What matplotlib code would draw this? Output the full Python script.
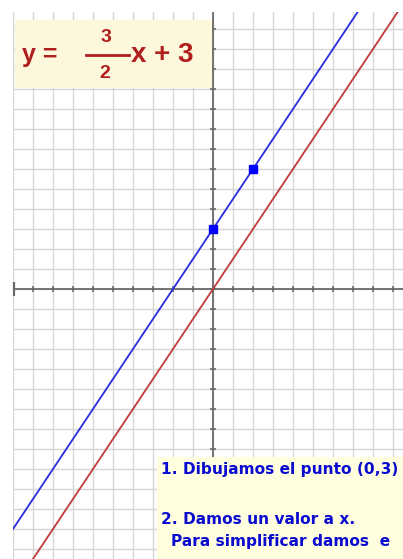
import numpy as np
import matplotlib
matplotlib.use("Agg")
import matplotlib.pyplot as plt
from matplotlib.patches import Rectangle

W, H = 403, 559

# datos
line_x = [-10, 10]
blue_y = [-12, 18]     # y = 3/2 x + 3
red_y = [-15, 15]      # y = 3/2 x
pts_x = [0, 2]
pts_y = [3, 6]
xlim = (-10, 9.5)
ylim = (-13.5, 13.85)

paso1 = "1. Dibujamos el punto (0,3)"
paso2 = "2. Damos un valor a x."
paso3 = "Para simplificar damos  e"

BLUE = "#2a2ae0"
RED = "#c23a3a"
TXT_BLUE = "#0a0ad0"
TXT_RED = "#b01e1e"


def px(x, y):
    # pixeles desde arriba-izquierda -> fraccion de figura
    return x / W, 1 - y / H


fig = plt.figure(figsize=(W / 100, H / 100), dpi=100)
fig.patch.set_facecolor("white")
ax = fig.add_axes([13 / W, 0, (W - 13) / W, (H - 12) / H])
ax.set_xlim(*xlim)
ax.set_ylim(*ylim)
ax.set_xticks(np.arange(-10, 10))
ax.set_yticks(np.arange(-13, 14))
ax.grid(True, color="#d6d6d6", lw=1)
ax.tick_params(length=0, labelbottom=False, labelleft=False)
for s in ax.spines.values():
    s.set_visible(False)

# ejes con marcas
ax.axhline(0, color="#6a6a6a", lw=1.3)
ax.axvline(0, color="#6a6a6a", lw=1.3)
tx = np.arange(-9, 10)
ty = np.arange(-13, 14)
ax.plot(tx, np.zeros_like(tx), ls="none", marker="|", ms=5, mew=1.2, color="#6a6a6a")
ax.plot(np.zeros_like(ty), ty, ls="none", marker="_", ms=5, mew=1.2, color="#6a6a6a")
ax.plot([xlim[0] + 0.05], [0], marker="|", ms=10, mew=1.6, color="#6a6a6a", clip_on=False)

ax.plot(line_x, red_y, color=RED, lw=1.3)
ax.plot(line_x, blue_y, color=BLUE, lw=1.3)
ax.plot(pts_x, pts_y, ls="none", marker="s", ms=6, color="#0000ff")

# recuadro de la ecuacion
x0, y0 = px(15, 88)
fig.add_artist(Rectangle((x0, y0), (212 - 15) / W, 68 / H, transform=fig.transFigure,
                         facecolor="#fdf8dc", edgecolor="none"))
fkw = dict(color=TXT_RED, fontweight="bold", family="Liberation Sans")
fig.text(*px(22, 55), "y =", fontsize=18, va="center", ha="left", **fkw)
fig.text(*px(106, 38), "3", fontsize=14, va="center", ha="center", **fkw)
fig.text(*px(105, 73), "2", fontsize=14, va="center", ha="center", **fkw)
bx0, by = px(86, 55)
bx1, _ = px(129, 55)
fig.add_artist(plt.Line2D([bx0, bx1], [by, by], transform=fig.transFigure, color=TXT_RED, lw=2))
fig.text(*px(131, 55), "x + 3", fontsize=20, va="center", ha="left", **fkw)

# recuadro de los pasos
x1, _ = px(157, 0)
fig.add_artist(Rectangle((x1, 0), 1 - x1, (H - 457) / H, transform=fig.transFigure,
                         facecolor="#ffffe0", edgecolor="none"))
tkw = dict(color=TXT_BLUE, fontweight="bold", family="DejaVu Sans", fontsize=11.1,
           va="baseline", ha="left")
fig.text(*px(161, 474), paso1, **tkw)
fig.text(*px(161, 524), paso2, **tkw)
fig.text(*px(171, 546), paso3, **tkw)

fig.savefig("out.png", dpi=100)
